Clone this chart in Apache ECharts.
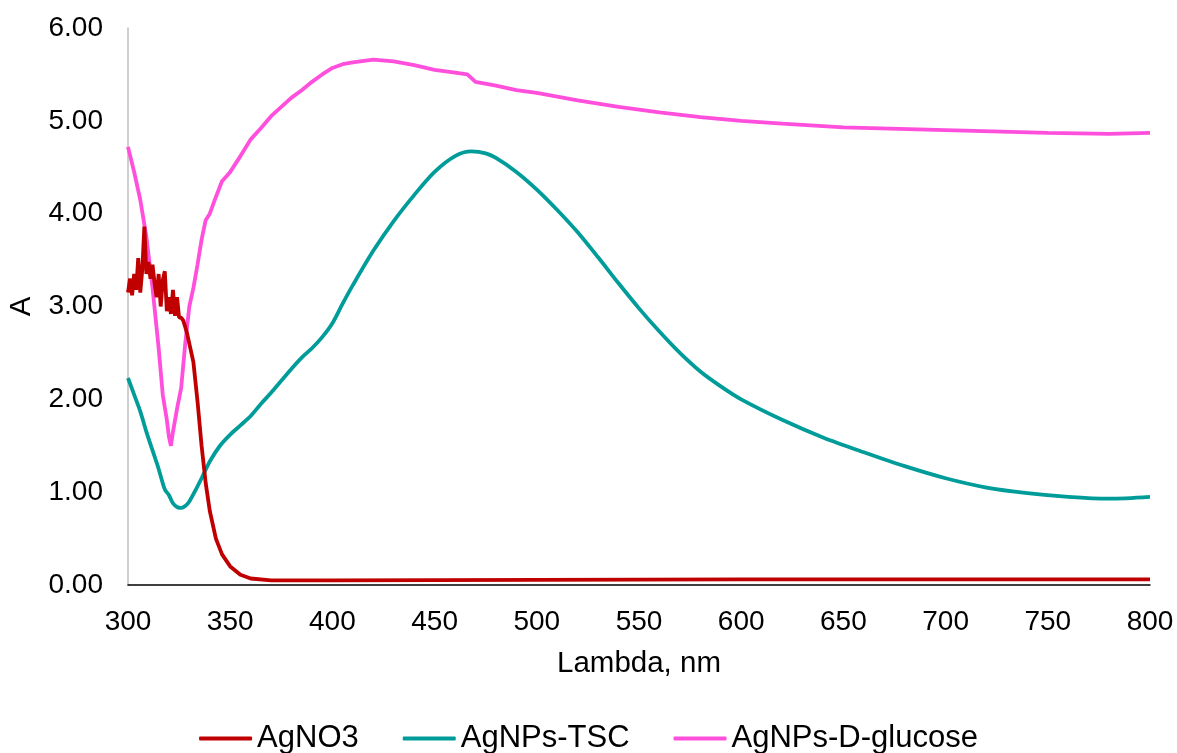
<!DOCTYPE html>
<html>
<head>
<meta charset="utf-8">
<script src="https://cdn.jsdelivr.net/npm/echarts@6/dist/echarts.min.js"></script>
<style>
  html, body { margin: 0; padding: 0; background: #fff; }
  #chart { width: 1177px; height: 753px; }
</style>
</head>
<body>
<div id="chart"></div>
<script>
// AgNO3 (noisy below 330 nm, then drops to baseline)
const agno3Nm = [300, 301, 302, 303, 304, 305, 306, 307, 308, 309, 310, 311, 312, 313, 314, 315,
  316, 317, 318, 319, 320, 321, 322, 323, 324, 325, 326, 327, 328, 329, 330,
  332, 334, 336, 338, 340, 343, 346, 350, 355, 360, 370, 400, 500, 600, 700, 800];
const agno3Abs = [3.15, 3.30, 3.12, 3.35, 3.18, 3.52, 3.15, 3.40, 3.86, 3.35, 3.48, 3.30, 3.45, 3.25, 3.10, 3.35,
  3.00, 3.28, 3.38, 2.95, 3.10, 2.92, 3.18, 2.90, 3.10, 2.88, 2.88, 2.85, 2.78, 2.70, 2.60,
  2.40, 1.98, 1.50, 1.10, 0.80, 0.50, 0.33, 0.20, 0.11, 0.07, 0.05, 0.05, 0.055, 0.06, 0.06, 0.06];

// AgNPs-TSC
const tscNm = [300, 303, 306, 309, 312, 315, 318, 320, 322, 324, 326, 328, 330, 333, 336, 340, 345, 350,
  355, 360, 365, 370, 375, 380, 385, 390, 395, 400, 405, 410, 420, 430, 440, 450, 460, 468, 475, 480,
  490, 500, 510, 520, 530, 540, 550, 560, 570, 580, 590, 600, 620, 640, 660, 680, 700, 720, 740, 760, 780, 800];
const tscAbs = [2.23, 2.05, 1.87, 1.65, 1.45, 1.25, 1.03, 0.97, 0.88, 0.84, 0.83, 0.85, 0.90, 1.02, 1.15, 1.33, 1.50, 1.62,
  1.72, 1.82, 1.95, 2.07, 2.20, 2.33, 2.45, 2.55, 2.67, 2.82, 3.03, 3.23, 3.60, 3.92, 4.20, 4.45, 4.62, 4.67, 4.65, 4.60,
  4.45, 4.26, 4.04, 3.80, 3.53, 3.25, 2.98, 2.73, 2.50, 2.30, 2.14, 2.00, 1.78, 1.59, 1.43, 1.28, 1.15, 1.05, 0.99, 0.95, 0.93, 0.95];

// AgNPs-D-glucose
const glucoseNm = [300, 303, 306, 309, 312, 315, 317, 319, 320, 321, 322, 324, 326, 328, 330, 332, 334, 336, 338, 340,
  343, 346, 350, 355, 360, 365, 370, 375, 380, 385, 390, 395, 400, 405, 410, 420, 430, 440, 450, 460, 466,
  468, 470, 480, 490, 500, 520, 540, 560, 580, 600, 620, 650, 700, 750, 780, 800];
const glucoseAbs = [4.72, 4.45, 4.15, 3.75, 3.20, 2.55, 2.05, 1.78, 1.60, 1.50, 1.65, 1.90, 2.12, 2.60, 3.00, 3.20, 3.45, 3.72, 3.93, 4.00,
  4.18, 4.35, 4.45, 4.62, 4.80, 4.92, 5.05, 5.15, 5.25, 5.33, 5.42, 5.50, 5.57, 5.61, 5.63, 5.66, 5.64, 5.60, 5.55, 5.52, 5.50,
  5.46, 5.42, 5.38, 5.33, 5.30, 5.22, 5.15, 5.09, 5.04, 5.00, 4.97, 4.93, 4.90, 4.87, 4.86, 4.87];

const xTicks = [300, 350, 400, 450, 500, 550, 600, 650, 700, 750, 800];

function zip(xs, ys) {
  let out = [];
  for (let i = 0; i < xs.length; i++) {
    out.push([xs[i], ys[i]]);
  }
  return out;
}

const fontFamily = "'Liberation Sans', Arial, sans-serif";
const fontSize = 28;
let myChart = echarts.init(document.getElementById("chart"));

myChart.setOption({
  animation: false,
  textStyle: { fontFamily: fontFamily, color: "#000" },
  grid: { left: 128, right: 27, top: 28, bottom: 168, containLabel: false, outerBoundsMode: "none" },
  legend: {
    top: 718,
    left: "center",
    icon: "roundRect",
    itemWidth: 53,
    itemHeight: 4,
    itemGap: 44,
    textStyle: { fontSize: 31, color: "#000", fontFamily: fontFamily },
    data: ["AgNO3", "AgNPs-TSC", "AgNPs-D-glucose"],
  },
  xAxis: {
    type: "value",
    min: xTicks[0],
    max: xTicks[xTicks.length - 1],
    interval: 50,
    name: "Lambda, nm",
    nameLocation: "middle",
    nameGap: 64,
    nameTextStyle: { fontSize: 29.5, color: "#000" },
    axisLine: { lineStyle: { color: "#000", width: 1.5 } },
    axisTick: { show: false },
    splitLine: { show: false },
    axisLabel: { fontSize: fontSize, color: "#000", margin: 23 },
  },
  yAxis: {
    type: "value",
    min: 0,
    max: 6,
    interval: 1,
    name: "A",
    nameLocation: "middle",
    nameGap: 91,
    nameTextStyle: { fontSize: 29.5, color: "#000" },
    axisLine: { show: true, lineStyle: { color: "#BFBFBF", width: 1.5 } },
    axisTick: { show: false },
    splitLine: { show: false },
    axisLabel: {
      fontSize: fontSize,
      color: "#000",
      margin: 25,
      formatter: function (v) { return v.toFixed(2); },
    },
  },
  series: [
    {
      name: "AgNO3",
      type: "line",
      symbol: "none",
      lineStyle: { color: "#C00000", width: 3.8 },
      itemStyle: { color: "#C00000" },
      z: 3,
      data: zip(agno3Nm, agno3Abs),
    },
    {
      name: "AgNPs-TSC",
      type: "line",
      symbol: "none",
      smooth: 0.3,
      lineStyle: { color: "#009C99", width: 3.8 },
      itemStyle: { color: "#009C99" },
      z: 2,
      data: zip(tscNm, tscAbs),
    },
    {
      name: "AgNPs-D-glucose",
      type: "line",
      symbol: "none",
      lineStyle: { color: "#FF4FDC", width: 3.8 },
      itemStyle: { color: "#FF4FDC" },
      z: 1,
      data: zip(glucoseNm, glucoseAbs),
    },
  ],
});
</script>
</body>
</html>
